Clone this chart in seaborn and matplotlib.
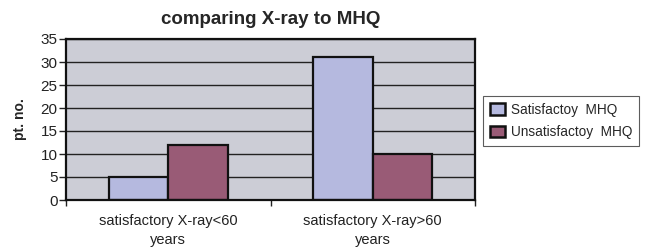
import matplotlib
matplotlib.use("Agg")
import matplotlib.pyplot as plt
import seaborn as sns
import pandas as pd

categories = ["satisfactory X-ray<60\nyears", "satisfactory X-ray>60\nyears"]
series = ["Satisfactoy  MHQ", "Unsatisfactoy  MHQ"]
satisfactory = [5, 31]
unsatisfactory = [12, 10]
yticks = [0, 5, 10, 15, 20, 25, 30, 35]

df = pd.DataFrame({
    "cat": categories * 2,
    "series": [series[0]] * 2 + [series[1]] * 2,
    "val": satisfactory + unsatisfactory,
})

sns.set_theme(style="white")
plt.rcParams["font.family"] = ["Liberation Sans", "DejaVu Sans"]

fig = plt.figure(figsize=(6.51, 2.5), dpi=100)
ax = fig.add_axes([66/651, 1 - 200/250, (475-66)/651, (200-39)/250])
ax.set_facecolor("#cccdd6")

sns.barplot(data=df, x="cat", y="val", hue="series", order=categories,
            hue_order=series, palette=["#aeb3e6", "#a35175"], width=0.58,
            edgecolor="#111111", linewidth=1.6, ax=ax, legend=True)

ax.set_ylim(0, 35)
ax.set_yticks(yticks)
ax.yaxis.grid(True, color="#222222", linewidth=1)
ax.set_axisbelow(True)
ax.set_xlim(-0.5, 1.5)
ax.set_xticks([-0.5, 0.5, 1.5])
ax.set_xticklabels([])
ax.set_xticks([0, 1], minor=True)
ax.set_xticklabels(categories, minor=True, fontsize=10.5, color="#222222", linespacing=1.45)
ax.tick_params(axis="x", which="minor", length=0, pad=10)
ax.tick_params(axis="x", which="major", length=4, width=1, direction="out", bottom=True, color="#222222")
ax.tick_params(axis="y", length=5, width=1, direction="out", left=True, labelsize=11, color="#222222", labelcolor="#222222", pad=1)
for s in ax.spines.values():
    s.set_visible(True)
    s.set_color("#111111")
    s.set_linewidth(1.6)
ax.set_xlabel("")
ax.set_ylabel("pt. no.", fontsize=10, fontweight="bold", labelpad=10)
ax.set_title("comparing X-ray to MHQ", fontsize=13.5, fontweight="bold", pad=11)

leg = ax.legend(loc="upper left", bbox_to_anchor=(483/651, 1 - 96/250),
                bbox_transform=fig.transFigure, borderaxespad=0, fontsize=9.8, frameon=True,
                fancybox=False, edgecolor="#333333", handlelength=1.1,
                handleheight=0.9, borderpad=0.5, labelspacing=0.6, handletextpad=0.45)
leg.get_frame().set_linewidth(0.8)
for h in leg.legend_handles:
    h.set_edgecolor("#111111")
    h.set_linewidth(1.8)

fig.savefig("out.png", dpi=100)
